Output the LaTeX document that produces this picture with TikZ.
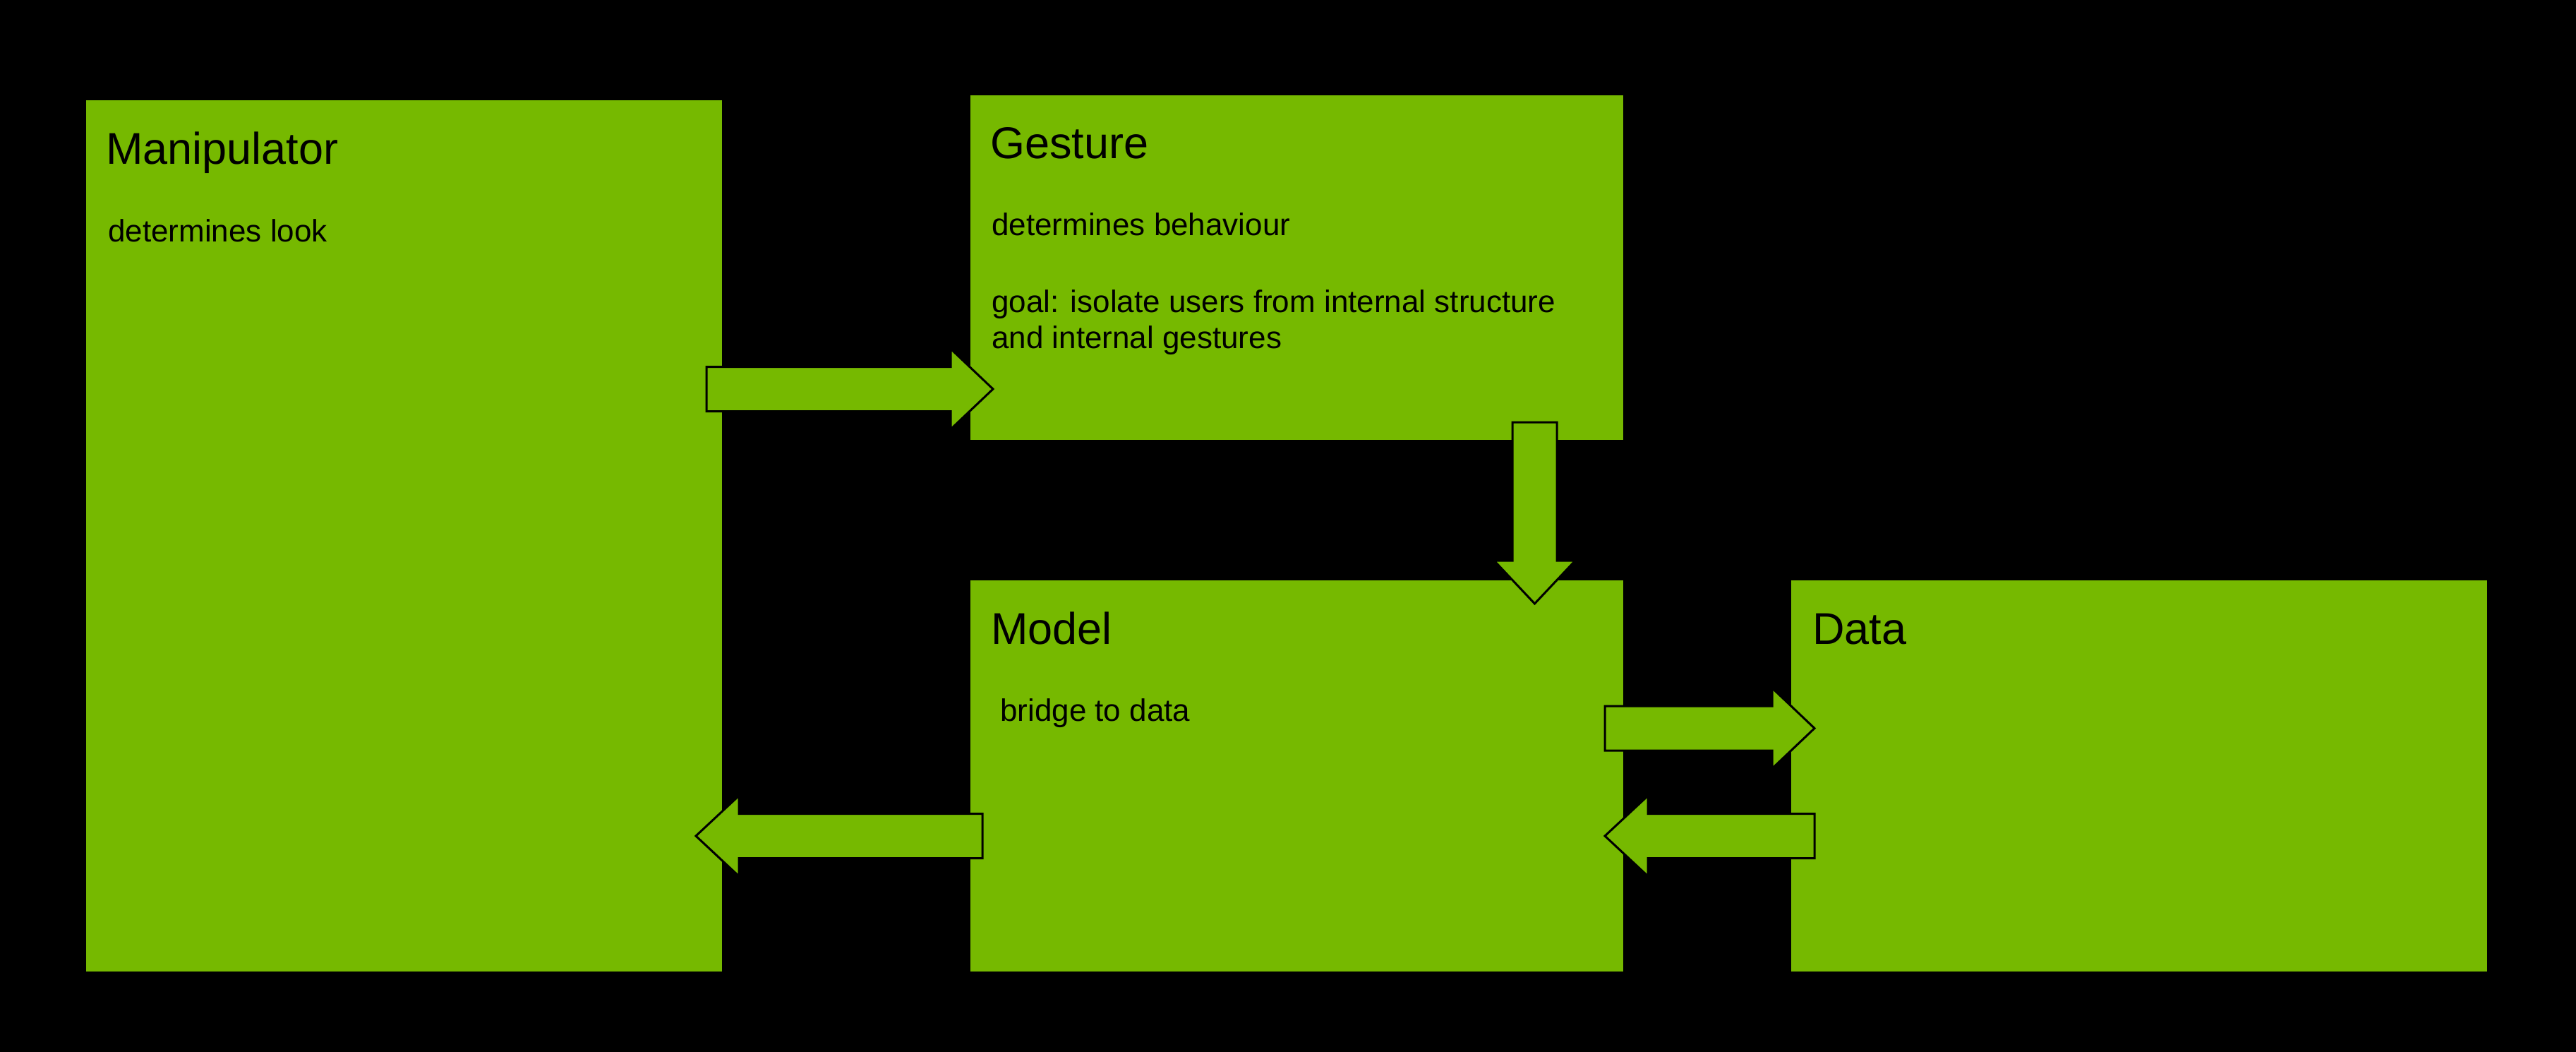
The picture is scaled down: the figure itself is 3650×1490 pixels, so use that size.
\documentclass[tikz,border=0pt]{standalone}
\usepackage{fontspec}
\setmainfont{Liberation Sans}
\usetikzlibrary{calc}
\definecolor{boxgreen}{HTML}{76B900}
\tikzset{
  box/.style={fill=boxgreen, draw=none, inner sep=0pt, anchor=north west},
  titletext/.style={anchor=base west, inner sep=0pt, text=black, font=\fontsize{63}{75}\selectfont},
  bodytext/.style={anchor=base west, inner sep=0pt, text=black, font=\fontsize{44}{51}\selectfont},
  blockarrow/.style={fill=boxgreen, draw=black, line width=3pt, line join=miter},
}
\newcommand\hblockarrow[3]{%
  \draw[blockarrow] ($(#1)+(0,-31.5)$) -- ($(#2)+({-(#3)},-31.5)$) -- ($(#2)+({-(#3)},-57)$)
    -- (#2) -- ($(#2)+({-(#3)},57)$) -- ($(#2)+({-(#3)},31.5)$) -- ($(#1)+(0,31.5)$) -- cycle;}
\newcommand\vblockarrow[3]{%
  \draw[blockarrow] ($(#1)+(-31.5,0)$) -- ($(#2)+(-31.5,{-(#3)})$) -- ($(#2)+(-57.5,{-(#3)})$)
    -- (#2) -- ($(#2)+(57.5,{-(#3)})$) -- ($(#2)+(31.5,{-(#3)})$) -- ($(#1)+(31.5,0)$) -- cycle;}
\begin{document}
\begin{tikzpicture}[x=1pt, y=-1pt]
  \fill[black] (0,0) rectangle (3650,1490);
  \useasboundingbox (0,0) rectangle (3650,1490);

  % boxes
  \node[box, minimum width=901pt, minimum height=1234pt] (manip) at (122,142) {};
  \node[box, minimum width=925pt, minimum height=488pt] (gesture) at (1375,135) {};
  \node[box, minimum width=925pt, minimum height=554pt] (model) at (1375,822) {};
  \node[box, minimum width=986pt, minimum height=554pt] (data) at (2538,822) {};

  % texts
  \node[titletext] (manipT) at ($(manip.north west)+(28,91)$) {Manipulator};
  \node[bodytext] (manipD) at ($(manip.north west)+(31,200)$) {determines look};

  \node[titletext] (gestT) at ($(gesture.north west)+(28,90)$) {Gesture};
  \node[bodytext] (gestD) at ($(gesture.north west)+(30,198)$) {determines behaviour};
  \node[bodytext] (gestG1) at ($(gesture.north west)+(30,307)$) {goal: isolate users from internal structure};
  \node[bodytext] (gestG2) at ($(gesture.north west)+(30,358)$) {and internal gestures};

  \node[titletext] (modelT) at ($(model.north west)+(29,90)$) {Model};
  \node[bodytext] (modelD) at ($(model.north west)+(42,199)$) {bridge to data};

  \node[titletext] (dataT) at ($(data.north west)+(30,90)$) {Data};

  % connector end points
  \coordinate (a1s) at (1001,551);
  \coordinate (a1e) at (1407,551);
  \coordinate (a2s) at (2174.5,598);
  \coordinate (a2e) at (2174.5,855);
  \coordinate (a3s) at (2274,1031.5);
  \coordinate (a3e) at (2571,1031.5);
  \coordinate (a4s) at (2571,1184);
  \coordinate (a4e) at (2274,1184);
  \coordinate (a5s) at (1392,1184);
  \coordinate (a5e) at (986,1184);

  % block arrows
  \hblockarrow{a1s}{a1e}{60}
  \vblockarrow{a2s}{a2e}{61}
  \hblockarrow{a3s}{a3e}{60}
  \hblockarrow{a4s}{a4e}{-61}
  \hblockarrow{a5s}{a5e}{-61}
\end{tikzpicture}
\end{document}
